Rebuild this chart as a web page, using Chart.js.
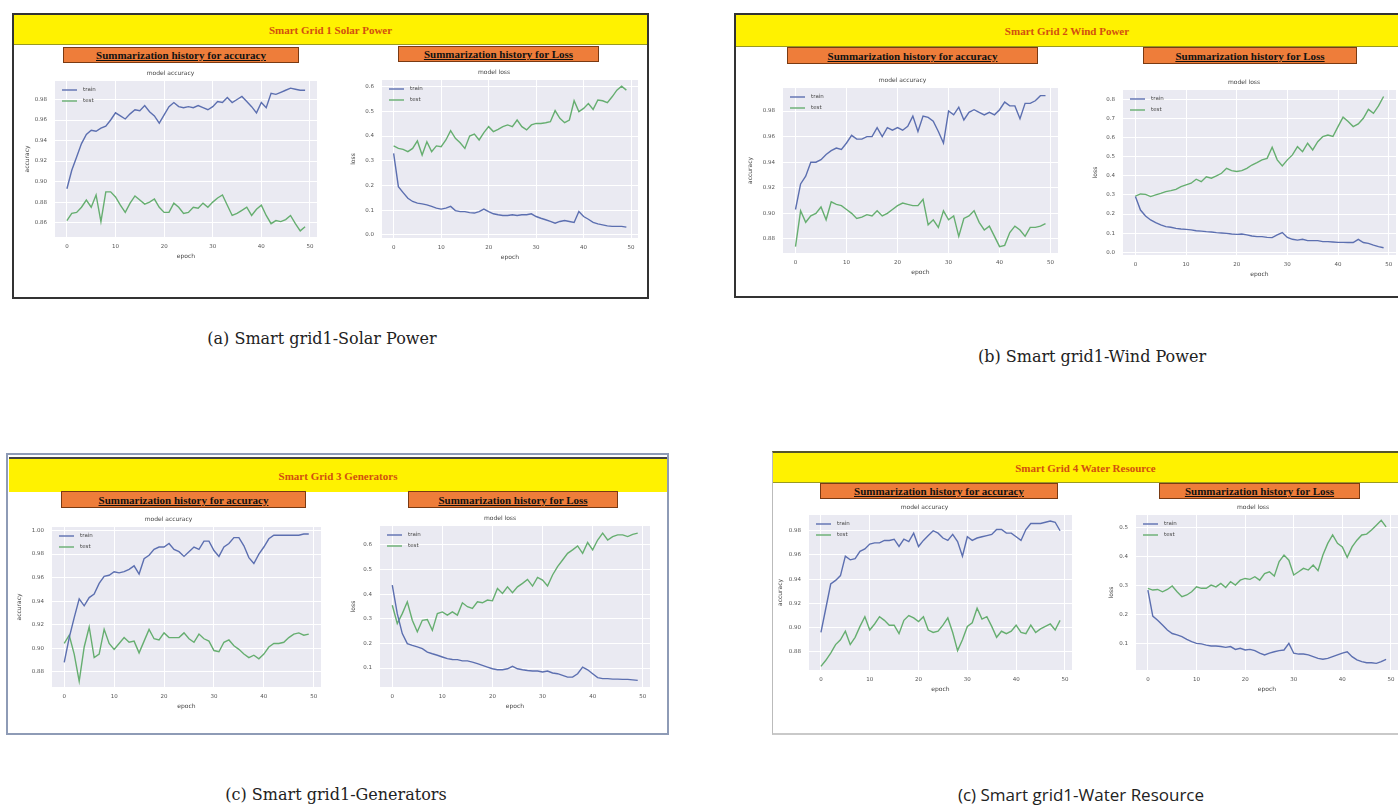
<!DOCTYPE html>
<html><head><meta charset="utf-8">
<script src="https://cdn.jsdelivr.net/npm/chart.js@4.4.1/dist/chart.umd.min.js"></script>
<style>
html,body{margin:0;padding:0;background:#fff;width:1398px;height:806px;overflow:hidden;position:relative;}
.abs{position:absolute;box-sizing:border-box;}
.yellow{background:#FFF200;display:flex;align-items:center;justify-content:center;font-family:"Liberation Serif",serif;font-weight:bold;font-size:11px;color:#D2500F;white-space:nowrap;}
.orange{background:#EE7D3A;border:1px solid #7a3a12;display:flex;align-items:center;justify-content:center;font-family:"Liberation Serif",serif;font-weight:bold;font-size:11px;color:#111;text-decoration:underline;white-space:nowrap;}
.cap{position:absolute;font-family:"DejaVu Serif",serif;font-size:16px;color:#222;white-space:nowrap;transform:translateX(-50%);line-height:20px;}
.cap2{font-family:"Open Sans",sans-serif;font-size:17px;}
canvas{position:absolute;}
</style></head><body>

<!-- Panel 1 -->
<div class="abs" style="left:12px;top:13px;width:637px;height:286px;border:2px solid #333;"></div>
<div class="abs yellow" style="left:14px;top:15px;width:633px;height:30px;border-bottom:1px solid #9a9a20;">Smart Grid 1 Solar Power</div>
<div class="abs orange" style="left:63px;top:47px;width:236px;height:16px;">Summarization history for accuracy</div>
<div class="abs orange" style="left:398px;top:46px;width:201px;height:16px;">Summarization history for Loss</div>

<!-- Panel 2 -->
<div class="abs" style="left:734px;top:13px;width:680px;height:285px;border:2px solid #333;"></div>
<div class="abs yellow" style="left:736px;top:15px;width:662px;height:32px;border-bottom:1px solid #9a9a20;">Smart Grid 2 Wind Power</div>
<div class="abs orange" style="left:787px;top:47px;width:251px;height:17px;">Summarization history for accuracy</div>
<div class="abs orange" style="left:1143px;top:47px;width:214px;height:17px;">Summarization history for Loss</div>

<!-- Panel 3 -->
<div class="abs" style="left:6px;top:453px;width:663px;height:282px;border:2px solid #8e9bb6;"></div>
<div class="abs yellow" style="left:9px;top:457px;width:658px;height:35px;border-top:2px solid #444;">Smart Grid 3 Generators</div>
<div class="abs orange" style="left:61px;top:491px;width:245px;height:17px;">Summarization history for accuracy</div>
<div class="abs orange" style="left:408px;top:491px;width:210px;height:17px;">Summarization history for Loss</div>

<!-- Panel 4 -->
<div class="abs" style="left:772px;top:451px;width:640px;height:284px;border-top:2px solid #55552a;border-left:1px solid #bbb;border-bottom:2px solid #c9c9c9;"></div>
<div class="abs yellow" style="left:773px;top:453px;width:625px;height:30px;border-bottom:1px solid #9a9a20;">Smart Grid 4 Water Resource</div>
<div class="abs orange" style="left:820px;top:483px;width:238px;height:16px;">Summarization history for accuracy</div>
<div class="abs orange" style="left:1159px;top:483px;width:201px;height:16px;">Summarization history for Loss</div>

<div class="cap" style="left:322px;top:329px;">(a) Smart grid1-Solar Power</div>
<div class="cap" style="left:1092px;top:347px;">(b) Smart grid1-Wind Power</div>
<div class="cap" style="left:336px;top:785px;">(c) Smart grid1-Generators</div>
<div class="cap cap2" style="left:1081px;top:785px;">(c) Smart grid1-Water Resource</div>

<script>
// ---------- DATA ----------
const EPOCHS = [0,1,2,3,4,5,6,7,8,9,10,11,12,13,14,15,16,17,18,19,20,21,22,23,24,25,26,27,28,29,30,31,32,33,34,35,36,37,38,39,40,41,42,43,44,45,46,47,48,49];
const EPOCH_TICKS = [0,10,20,30,40,50];

const G1_ACC_TRAIN = [0.893,0.911,0.924,0.937,0.946,0.950,0.949,0.952,0.954,0.960,0.967,0.964,0.961,0.966,0.970,0.969,0.974,0.968,0.964,0.957,0.965,0.973,0.977,0.973,0.972,0.973,0.972,0.974,0.972,0.970,0.973,0.978,0.977,0.982,0.977,0.980,0.983,0.978,0.973,0.967,0.977,0.972,0.986,0.985,0.987,0.989,0.991,0.990,0.989,0.989];
const G1_ACC_TEST = [0.862,0.869,0.870,0.875,0.882,0.875,0.887,0.861,0.890,0.890,0.885,0.877,0.870,0.879,0.886,0.882,0.878,0.880,0.883,0.875,0.870,0.870,0.879,0.875,0.869,0.870,0.875,0.874,0.879,0.875,0.880,0.884,0.887,0.877,0.867,0.869,0.872,0.875,0.867,0.873,0.877,0.867,0.859,0.862,0.861,0.863,0.867,0.859,0.852,0.856];
const G1_LOSS_TRAIN = [0.330,0.195,0.171,0.148,0.135,0.128,0.125,0.121,0.115,0.108,0.104,0.108,0.115,0.098,0.094,0.094,0.090,0.088,0.094,0.104,0.094,0.085,0.081,0.078,0.078,0.081,0.078,0.081,0.081,0.085,0.074,0.067,0.061,0.054,0.047,0.054,0.058,0.054,0.050,0.094,0.074,0.063,0.050,0.044,0.040,0.036,0.034,0.034,0.034,0.031];
const G1_LOSS_TEST = [0.360,0.350,0.346,0.337,0.350,0.380,0.323,0.377,0.337,0.360,0.357,0.384,0.422,0.391,0.373,0.350,0.400,0.408,0.384,0.414,0.438,0.418,0.427,0.438,0.445,0.438,0.465,0.438,0.425,0.445,0.451,0.451,0.454,0.458,0.503,0.472,0.454,0.465,0.543,0.499,0.512,0.532,0.508,0.546,0.543,0.535,0.559,0.586,0.602,0.586];

const G2_ACC_TRAIN = [0.903,0.923,0.929,0.940,0.940,0.942,0.946,0.949,0.951,0.950,0.955,0.961,0.958,0.958,0.960,0.960,0.967,0.960,0.967,0.965,0.967,0.965,0.968,0.976,0.964,0.976,0.975,0.972,0.964,0.955,0.980,0.977,0.983,0.973,0.979,0.981,0.979,0.977,0.979,0.977,0.981,0.987,0.984,0.984,0.974,0.986,0.986,0.988,0.992,0.992];
const G2_ACC_TEST = [0.874,0.902,0.893,0.898,0.900,0.905,0.895,0.909,0.907,0.906,0.903,0.900,0.896,0.897,0.899,0.898,0.902,0.898,0.900,0.903,0.906,0.908,0.907,0.906,0.906,0.911,0.891,0.895,0.889,0.902,0.895,0.898,0.882,0.896,0.898,0.902,0.893,0.887,0.890,0.882,0.874,0.875,0.885,0.890,0.887,0.882,0.889,0.889,0.890,0.892];
const G2_LOSS_TRAIN = [0.291,0.221,0.190,0.169,0.155,0.143,0.134,0.131,0.125,0.122,0.120,0.117,0.113,0.111,0.108,0.106,0.103,0.101,0.099,0.096,0.094,0.096,0.091,0.085,0.082,0.082,0.078,0.077,0.091,0.103,0.078,0.068,0.064,0.068,0.061,0.061,0.061,0.056,0.056,0.054,0.052,0.052,0.051,0.051,0.068,0.051,0.047,0.038,0.030,0.024];
const G2_LOSS_TEST = [0.294,0.305,0.303,0.291,0.300,0.308,0.317,0.322,0.329,0.343,0.352,0.361,0.382,0.369,0.395,0.387,0.399,0.413,0.439,0.427,0.422,0.427,0.439,0.456,0.469,0.483,0.491,0.549,0.483,0.451,0.483,0.509,0.552,0.526,0.570,0.535,0.578,0.605,0.613,0.605,0.657,0.706,0.683,0.657,0.671,0.700,0.747,0.726,0.765,0.814];

const G3_ACC_TRAIN = [0.888,0.909,0.926,0.942,0.936,0.943,0.946,0.955,0.961,0.962,0.965,0.964,0.965,0.967,0.970,0.963,0.976,0.979,0.984,0.986,0.986,0.989,0.984,0.982,0.978,0.982,0.986,0.984,0.991,0.991,0.983,0.978,0.986,0.989,0.994,0.994,0.987,0.977,0.972,0.980,0.986,0.993,0.996,0.996,0.996,0.996,0.996,0.996,0.997,0.997];
const G3_ACC_TEST = [0.904,0.911,0.895,0.872,0.901,0.918,0.892,0.895,0.916,0.904,0.899,0.904,0.909,0.905,0.906,0.896,0.906,0.916,0.908,0.907,0.913,0.909,0.909,0.909,0.913,0.908,0.905,0.912,0.908,0.906,0.898,0.897,0.905,0.907,0.902,0.899,0.895,0.892,0.894,0.891,0.895,0.901,0.904,0.904,0.905,0.909,0.912,0.913,0.911,0.912];
const G3_LOSS_TRAIN = [0.437,0.321,0.240,0.199,0.192,0.186,0.179,0.165,0.158,0.152,0.145,0.138,0.135,0.134,0.129,0.129,0.124,0.118,0.111,0.104,0.097,0.093,0.093,0.097,0.107,0.097,0.093,0.090,0.088,0.088,0.084,0.088,0.080,0.077,0.070,0.063,0.063,0.077,0.104,0.093,0.077,0.061,0.057,0.057,0.055,0.055,0.054,0.054,0.052,0.050];
const G3_LOSS_TEST = [0.355,0.281,0.321,0.369,0.294,0.247,0.294,0.297,0.253,0.321,0.328,0.315,0.328,0.315,0.365,0.349,0.342,0.369,0.365,0.376,0.373,0.423,0.403,0.430,0.406,0.430,0.444,0.460,0.433,0.468,0.457,0.433,0.478,0.512,0.539,0.566,0.580,0.596,0.566,0.610,0.580,0.620,0.648,0.620,0.634,0.641,0.641,0.634,0.643,0.648];

const G4_ACC_TRAIN = [0.896,0.916,0.936,0.939,0.943,0.959,0.956,0.957,0.963,0.965,0.969,0.970,0.970,0.972,0.972,0.973,0.967,0.973,0.971,0.978,0.967,0.972,0.976,0.980,0.978,0.974,0.972,0.977,0.971,0.959,0.975,0.972,0.974,0.975,0.976,0.977,0.981,0.981,0.978,0.978,0.975,0.972,0.981,0.986,0.986,0.986,0.987,0.988,0.987,0.980];
const G4_ACC_TEST = [0.868,0.873,0.879,0.886,0.890,0.897,0.886,0.892,0.901,0.909,0.898,0.903,0.909,0.906,0.902,0.902,0.895,0.906,0.910,0.908,0.905,0.909,0.898,0.896,0.897,0.902,0.908,0.896,0.881,0.890,0.901,0.904,0.916,0.907,0.909,0.901,0.892,0.897,0.895,0.897,0.902,0.896,0.895,0.902,0.896,0.899,0.901,0.903,0.898,0.906];
const G4_LOSS_TRAIN = [0.284,0.194,0.180,0.163,0.146,0.134,0.129,0.123,0.114,0.106,0.100,0.098,0.094,0.091,0.091,0.089,0.086,0.089,0.079,0.083,0.077,0.079,0.075,0.066,0.060,0.066,0.071,0.075,0.077,0.100,0.066,0.063,0.063,0.060,0.054,0.048,0.045,0.048,0.054,0.060,0.066,0.071,0.054,0.043,0.037,0.033,0.033,0.031,0.037,0.045];
const G4_LOSS_TEST = [0.290,0.284,0.286,0.278,0.286,0.298,0.278,0.261,0.267,0.278,0.295,0.290,0.290,0.301,0.295,0.307,0.293,0.313,0.301,0.318,0.324,0.321,0.330,0.318,0.341,0.347,0.332,0.382,0.405,0.387,0.336,0.347,0.359,0.353,0.370,0.351,0.405,0.445,0.474,0.445,0.433,0.397,0.433,0.456,0.474,0.477,0.491,0.508,0.525,0.502];

const ACC_TICKS_1 = [0.86,0.88,0.90,0.92,0.94,0.96,0.98];
const ACC_TICKS_2 = [0.88,0.90,0.92,0.94,0.96,0.98];
const ACC_TICKS_3 = [0.88,0.90,0.92,0.94,0.96,0.98,1.00];
const ACC_TICKS_4 = [0.88,0.90,0.92,0.94,0.96,0.98];
const LOSS_TICKS_1 = [0.0,0.1,0.2,0.3,0.4,0.5,0.6];
const LOSS_TICKS_2 = [0.0,0.1,0.2,0.3,0.4,0.5,0.6,0.7,0.8];
const LOSS_TICKS_3 = [0.1,0.2,0.3,0.4,0.5,0.6];
const LOSS_TICKS_4 = [0.1,0.2,0.3,0.4,0.5];

// ---------- STYLE ----------
const BLUE = '#5C6FB0';
const GREEN = '#66AE70';
const FONT = 'DejaVu Sans';

const bgPlugin = {
  id:'plotbg',
  beforeDraw(c){
    const a=c.chartArea, ctx=c.ctx;
    ctx.save(); ctx.fillStyle='#EAEAF2';
    ctx.fillRect(a.left,a.top,a.right-a.left,a.bottom-a.top);
    ctx.restore();
  }
};
const innerLegend = {
  id:'innerLegend',
  afterDatasetsDraw(c){
    const a=c.chartArea, ctx=c.ctx;
    ctx.save();
    c.data.datasets.forEach((ds,i)=>{
      const y=a.top+9+i*11;
      ctx.strokeStyle=ds.borderColor; ctx.lineWidth=1.4;
      ctx.beginPath(); ctx.moveTo(a.left+7,y); ctx.lineTo(a.left+22,y); ctx.stroke();
      ctx.fillStyle='#444'; ctx.font='5.5px "'+FONT+'"'; ctx.textBaseline='middle'; ctx.textAlign='left';
      ctx.fillText(ds.label,a.left+28,y);
    });
    ctx.restore();
  }
};

function pts(arr){ return arr.map((v,i)=>({x:EPOCHS[i],y:v})); }

function makeChart(rect, yw, title, yTitle, train, test, yTicks, yMin, yMax, dec){
  const [L,T,R,B]=rect;
  const W=R-L+yw+4, H=B-T+12+24;
  const cv=document.createElement('canvas');
  cv.width=W; cv.height=H;
  cv.style.left=(L-yw)+'px'; cv.style.top=(T-12)+'px';
  cv.style.width=W+'px'; cv.style.height=H+'px';
  document.body.appendChild(cv);
  new Chart(cv,{
    type:'line',
    data:{datasets:[
      {label:'train',data:pts(train),borderColor:BLUE,borderWidth:1.4,pointRadius:0,tension:0,fill:false},
      {label:'test',data:pts(test),borderColor:GREEN,borderWidth:1.4,pointRadius:0,tension:0,fill:false}
    ]},
    options:{
      responsive:false, maintainAspectRatio:false, animation:false,
      layout:{padding:{left:0,right:4,top:0,bottom:0}},
      plugins:{
        legend:{display:false}, tooltip:{enabled:false},
        title:{display:true,text:title,color:'#444',font:{family:FONT,size:6,weight:'normal'},padding:{top:1.2,bottom:3.6}}
      },
      scales:{
        x:{type:'linear',min:-2.45,max:51.45,
          afterBuildTicks:ax=>{ax.ticks=EPOCH_TICKS.map(v=>({value:v}));},
          afterFit:s=>{s.height=24;},
          grid:{color:'#ffffff',lineWidth:1,drawTicks:false},
          border:{display:false},
          ticks:{font:{family:FONT,size:5.5},color:'#555',padding:6,maxRotation:0,autoSkip:false,callback:v=>String(v)},
          title:{display:true,text:'epoch',color:'#444',font:{family:FONT,size:6},padding:{top:0,bottom:1}}
        },
        y:{type:'linear',min:yMin,max:yMax,
          afterBuildTicks:ax=>{ax.ticks=yTicks.map(v=>({value:v}));},
          afterFit:s=>{s.width=yw;},
          grid:{color:'#ffffff',lineWidth:1,drawTicks:false},
          border:{display:false},
          ticks:{font:{family:FONT,size:5.5},color:'#555',padding:8,autoSkip:false,callback:v=>Number(v).toFixed(dec)},
          title:{display:true,text:yTitle,color:'#444',font:{family:FONT,size:6},padding:{top:0,bottom:0}}
        }
      }
    },
    plugins:[bgPlugin,innerLegend]
  });
}

makeChart([55,81,317,237],31,'model accuracy','accuracy',G1_ACC_TRAIN,G1_ACC_TEST,ACC_TICKS_1,0.846,0.998,2);
makeChart([382,80,638,238],32,'model loss','loss',G1_LOSS_TRAIN,G1_LOSS_TEST,LOSS_TICKS_1,-0.013,0.627,1);
makeChart([783,88,1058,253],36,'model accuracy','accuracy',G2_ACC_TRAIN,G2_ACC_TEST,ACC_TICKS_2,0.869,0.998,2);
makeChart([1123,90,1396,255],31,'model loss','loss',G2_LOSS_TRAIN,G2_LOSS_TEST,LOSS_TICKS_2,-0.014,0.848,1);
makeChart([52,527,321,687],36,'model accuracy','accuracy',G3_ACC_TRAIN,G3_ACC_TEST,ACC_TICKS_3,0.867,1.003,2);
makeChart([380,526,650,687],30,'model loss','loss',G3_LOSS_TRAIN,G3_LOSS_TEST,LOSS_TICKS_3,0.023,0.677,1);
makeChart([809,515,1072,670],32,'model accuracy','accuracy',G4_ACC_TRAIN,G4_ACC_TEST,ACC_TICKS_4,0.865,0.993,2);
makeChart([1136,515,1398,670],28,'model loss','loss',G4_LOSS_TRAIN,G4_LOSS_TEST,LOSS_TICKS_4,0.008,0.543,1);
</script>
</body></html>
